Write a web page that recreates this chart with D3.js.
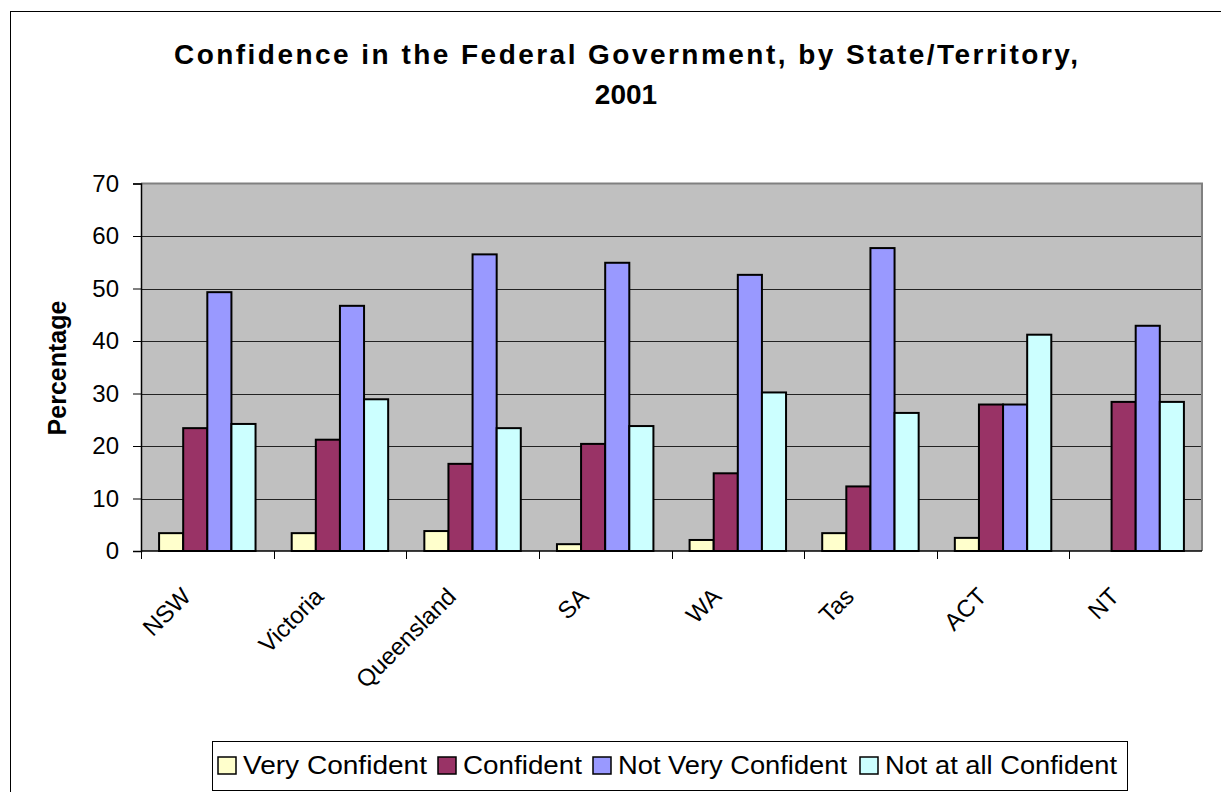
<!DOCTYPE html>
<html>
<head>
<meta charset="utf-8">
<script src="https://cdn.jsdelivr.net/npm/d3@7/dist/d3.min.js"></script>
<style>
  html, body { margin: 0; padding: 0; background: #fff; }
  svg { display: block; font-family: "Liberation Sans", Arial, sans-serif; }
</style>
</head>
<body>
<svg id="chart" width="1221" height="792"></svg>
<script>
const categories = ["NSW", "Victoria", "Queensland", "SA", "WA", "Tas", "ACT", "NT"];
const seriesNames = ["Very Confident", "Confident", "Not Very Confident", "Not at all Confident"];
const veryConfident = [3.4, 3.4, 3.8, 1.3, 2.1, 3.4, 2.5, 0];
const confident = [23.4, 21.2, 16.6, 20.4, 14.8, 12.3, 27.9, 28.4];
const notVeryConfident = [49.3, 46.7, 56.5, 54.9, 52.6, 57.7, 27.9, 42.9];
const notAtAllConfident = [24.2, 28.9, 23.4, 23.8, 30.2, 26.3, 41.2, 28.4];
const yTicks = [0, 10, 20, 30, 40, 50, 60, 70];
const colors = ["#FFFFCC", "#993366", "#9999FF", "#CCFFFF"];
const titleLines = ["Confidence in the Federal Government, by State/Territory,", "2001"];
const yLabel = "Percentage";

const seriesValues = [veryConfident, confident, notVeryConfident, notAtAllConfident];

const svg = d3.select("#chart");
const plot = { left: 141, right: 1202, top: 183.5, bottom: 551 };

// Chart area border (extends beyond the picture on right and bottom)
svg.append("rect")
  .attr("x", 10.5).attr("y", 11.5)
  .attr("width", 1300).attr("height", 900)
  .attr("fill", "#fff").attr("stroke", "#000").attr("stroke-width", 1);

const x0 = d3.scaleBand().domain(categories).range([plot.left, plot.right]).padding(0);
const x1 = d3.scaleBand().domain(seriesNames).range([0, x0.bandwidth()]).paddingInner(0).paddingOuter(0.75);
const y = d3.scaleLinear().domain([0, 70]).range([plot.bottom, plot.top]);

// Plot background
svg.append("rect")
  .attr("x", plot.left).attr("y", plot.top)
  .attr("width", plot.right - plot.left).attr("height", plot.bottom - plot.top)
  .attr("fill", "#C0C0C0");

// Gridlines
svg.append("g").selectAll("line")
  .data(yTicks.filter(t => t > 0 && t < 70))
  .join("line")
  .attr("x1", plot.left).attr("x2", plot.right)
  .attr("y1", d => Math.round(y(d)) + 0.5).attr("y2", d => Math.round(y(d)) + 0.5)
  .attr("stroke", "#222").attr("stroke-width", 1);

// Plot border top/right
svg.append("path")
  .attr("d", `M${plot.left},${plot.top} H${plot.right} V${plot.bottom}`)
  .attr("fill", "none").attr("stroke", "#808080").attr("stroke-width", 2);

// Bars
const rows = categories.map((c, i) => ({ cat: c, vals: seriesNames.map((s, j) => ({ s, j, v: seriesValues[j][i] })) }));
const groups = svg.append("g").selectAll("g")
  .data(rows).join("g")
  .attr("transform", d => `translate(${x0(d.cat)},0)`);
groups.selectAll("rect")
  .data(d => d.vals.filter(v => v.v > 0))
  .join("rect")
  .attr("x", d => x1(d.s))
  .attr("y", d => y(d.v))
  .attr("width", x1.bandwidth())
  .attr("height", d => y(0) - y(d.v))
  .attr("fill", d => colors[d.j])
  .attr("stroke", "#000").attr("stroke-width", 2);

// Y axis
const yAxis = d3.axisLeft(y).tickValues(yTicks).tickSize(8).tickPadding(14).tickFormat(d3.format("d"));
const gy = svg.append("g").attr("transform", `translate(${plot.left},0)`).call(yAxis);
gy.select(".domain").attr("stroke", "#000").attr("stroke-width", 1.5);
gy.selectAll(".tick line").attr("stroke", "#000");
gy.selectAll("text").attr("font-size", 24).attr("fill", "#000")
  .attr("font-family", "Liberation Sans, Arial, sans-serif");

// X axis (ticks at category boundaries)
svg.append("line")
  .attr("x1", plot.left).attr("x2", plot.right)
  .attr("y1", plot.bottom).attr("y2", plot.bottom)
  .attr("stroke", "#000").attr("stroke-width", 1.5);
const boundaries = categories.map(c => x0(c));
svg.append("g").selectAll("line")
  .data(boundaries)
  .join("line")
  .attr("x1", d => Math.round(d) + 0.5).attr("x2", d => Math.round(d) + 0.5)
  .attr("y1", plot.bottom).attr("y2", plot.bottom + 8)
  .attr("stroke", "#000");

svg.append("g").selectAll("text")
  .data(categories)
  .join("text")
  .attr("transform", d => `translate(${x0(d) + x0.bandwidth() / 2 - 15},${plot.bottom + 47}) rotate(-45)`)
  .attr("text-anchor", "end")
  .attr("font-size", 24)
  .attr("fill", "#000")
  .text(d => d);

// Y label
svg.append("text")
  .attr("transform", `translate(66,368) rotate(-90)`)
  .attr("text-anchor", "middle")
  .attr("font-size", 25).attr("font-weight", "bold")
  .text(yLabel);

// Title
svg.append("g").selectAll("text")
  .data(titleLines)
  .join("text")
  .attr("x", 626)
  .attr("y", (d, i) => 64 + i * 40)
  .attr("text-anchor", "middle")
  .attr("font-size", 28).attr("font-weight", "bold")
  .each(function (d, i) {
    if (i === 0) d3.select(this).attr("textLength", 904).attr("lengthAdjust", "spacing");
  })
  .text(d => d);

// Legend
const legend = { left: 212, right: 1127, top: 741, bottom: 790 };
svg.append("rect")
  .attr("x", legend.left + 0.5).attr("y", legend.top + 0.5)
  .attr("width", legend.right - legend.left).attr("height", legend.bottom - legend.top)
  .attr("fill", "#fff").attr("stroke", "#000").attr("stroke-width", 1);
const legendItems = seriesNames.map((s, j) => ({ s, j }));
const markerX = [218, 438, 593, 860];
const textW = [184, 119, 229, 232];
const lg = svg.append("g").selectAll("g").data(legendItems).join("g")
  .attr("transform", d => `translate(${markerX[d.j]},0)`);
lg.append("rect")
  .attr("x", 0).attr("y", 757)
  .attr("width", 18).attr("height", 17)
  .attr("fill", d => colors[d.j]).attr("stroke", "#000").attr("stroke-width", 1.5);
lg.append("text")
  .attr("x", 25).attr("y", 774)
  .attr("font-size", 26)
  .attr("textLength", d => textW[d.j]).attr("lengthAdjust", "spacingAndGlyphs")
  .text(d => d.s);
</script>
</body>
</html>
